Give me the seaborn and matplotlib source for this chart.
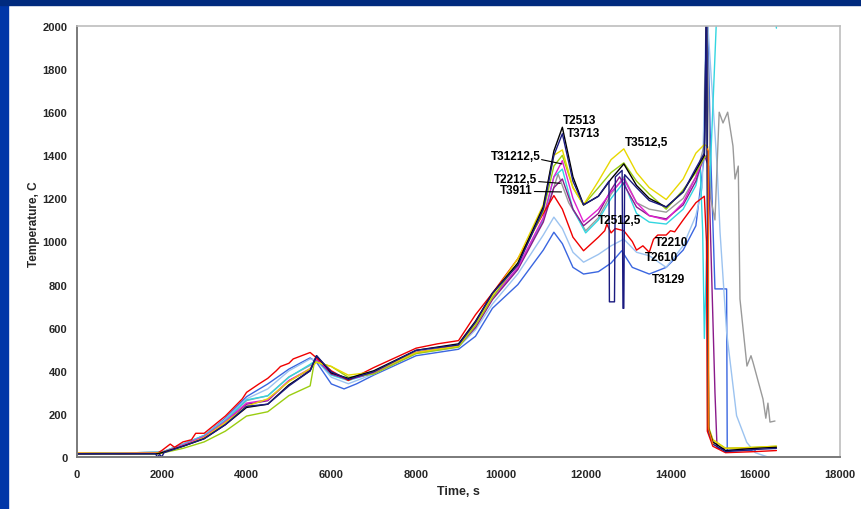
import matplotlib
matplotlib.use('Agg')
import matplotlib.pyplot as plt
import seaborn as sns
import pandas as pd
from matplotlib.patches import Rectangle

sns.set_style('white')
plt.rcParams['font.family'] = ['Liberation Sans', 'DejaVu Sans']

# ---- data (time, s / temperature, C) ----
t_red = [0, 1000, 1900, 2000, 2200, 2300, 2500, 2700, 2800, 3000, 3500, 3800, 3900, 4000, 4300, 4500, 4700, 4800, 5000, 5100,
         5300, 5500, 5650, 6000, 6400, 7000, 8000, 8500, 9000, 9400, 9800, 10400, 11000, 11250, 11450, 11700, 11950, 12300,
         12450, 12500, 12600, 12700, 12900, 13100, 13200, 13350, 13500, 13600, 13700, 13900, 14000, 14100, 14300, 14600,
         14800, 14850, 14870, 15000, 15300, 16000, 16500]
v_red = [18, 15, 18, 30, 60, 45, 70, 80, 110, 110, 190, 250, 270, 300, 340, 365, 400, 420, 435, 455,
         470, 485, 460, 400, 355, 415, 505, 525, 540, 660, 760, 920, 1130, 1213, 1150, 1020, 957, 1020,
         1050, 1080, 1040, 1060, 1050, 1000, 960, 980, 950, 1010, 1030, 1030, 1050, 1045, 1100, 1180,
         1210, 1000, 120, 50, 20, 25, 30]

t_black = [0, 1900, 2000, 2500, 3000, 3500, 4000, 4500, 5000, 5500, 5650, 6000, 6400, 7000, 8000, 9000, 9400, 9800, 10400,
           11000, 11250, 11450, 11700, 11950, 12300, 12600, 12900, 13200, 13500, 13900, 14300, 14600, 14800, 14850,
           14900, 15000, 15300, 16000, 16500]
v_black = [15, 15, 20, 50, 85, 150, 230, 245, 335, 400, 470, 390, 365, 400, 495, 525, 630, 760, 900,
           1160, 1420, 1530, 1300, 1170, 1210, 1290, 1360, 1260, 1200, 1160, 1230, 1330, 1400, 2100,
           130, 70, 30, 40, 45]

t_yellow = [0, 1900, 2000, 2500, 3000, 3500, 4000, 4500, 5000, 5500, 5650, 6000, 6400, 7000, 8000, 9000, 9400, 9800, 10400,
            11000, 11250, 11450, 11700, 11950, 12300, 12600, 12900, 13200, 13500, 13900, 14300, 14600, 14800, 14880,
            14900, 15000, 15300, 16000, 16500]
v_yellow = [18, 18, 20, 50, 90, 160, 235, 270, 350, 410, 440, 420, 380, 395, 485, 515, 620, 750, 920,
            1170, 1400, 1425, 1250, 1170, 1280, 1380, 1430, 1320, 1250, 1195, 1290, 1410, 1450, 1440,
            130, 80, 40, 45, 50]

t_green = [0, 1900, 2000, 2500, 3000, 3500, 4000, 4500, 5000, 5500, 5600, 5650, 6000, 6400, 7000, 8000, 9000, 9400, 9800,
           10400, 11000, 11250, 11450, 11700, 11950, 12300, 12600, 12900, 13200, 13500, 13900, 14300, 14600, 14800,
           14880, 14900, 15000, 15300, 16000, 16500]
v_green = [15, 15, 18, 40, 70, 120, 190, 210, 285, 330, 440, 440, 420, 370, 385, 480, 510, 610, 740,
           900, 1140, 1350, 1400, 1250, 1170, 1250, 1320, 1365, 1280, 1220, 1150, 1240, 1320, 1390,
           1400, 140, 80, 40, 45, 50]

t_navy = [0, 1850, 1900, 1950, 2000, 2050, 2500, 3000, 3500, 4000, 4500, 5000, 5500, 5650, 6000, 6400, 7000, 8000, 9000,
          9400, 9800, 10400, 11000, 11250, 11450, 11700, 11950, 12300, 12550, 12560, 12680, 12700, 12860, 12880,
          12900, 12920, 13200, 13500, 13900, 14300, 14600, 14800, 14850, 14900, 15000, 15300, 16000, 16500]
v_navy = [15, 15, 0, 12, 0, 20, 50, 85, 150, 235, 245, 330, 400, 470, 395, 360, 395, 495, 520,
          625, 760, 890, 1150, 1400, 1500, 1280, 1170, 1210, 1280, 720, 720, 1300, 1330, 690,
          690, 1310, 1250, 1190, 1160, 1230, 1340, 1410, 2100, 120, 60, 25, 35, 40]

t_magenta = [0, 2000, 2500, 3000, 3500, 4000, 4500, 5000, 5500, 5650, 6000, 6400, 7000, 8000, 9000, 9400, 9800, 10400,
             11000, 11250, 11450, 11700, 11950, 12300, 12600, 12900, 13200, 13500, 13900, 14300, 14600, 14800, 14900]
v_magenta = [15, 20, 55, 95, 165, 250, 265, 355, 410, 455, 390, 360, 390, 485, 515, 610, 740, 880,
             1110, 1300, 1375, 1200, 1090, 1150, 1230, 1290, 1180, 1120, 1100, 1180, 1300, 1400, 1380]

t_purple = [0, 2000, 2500, 3000, 3500, 4000, 4500, 5000, 5500, 5650, 6000, 6400, 7000, 8000, 9000, 9400, 9800, 10400,
            11000, 11250, 11450, 11700, 11950, 12300, 12600, 12800, 13200, 13500, 13900, 14300, 14600, 14800, 14900,
            15050, 15100, 16000]
v_purple = [15, 20, 52, 92, 160, 245, 261, 354, 405, 455, 385, 360, 390, 485, 515, 600, 730, 870,
            1090, 1250, 1290, 1150, 1073, 1130, 1240, 1300, 1160, 1120, 1105, 1170, 1280, 1400, 1350,
            300, 40, 40]

t_cyan = [0, 2000, 2500, 3000, 3500, 4000, 4500, 5000, 5500, 5650, 6000, 6400, 7000, 8000, 9000, 9400, 9800, 10400,
          11000, 11250, 11450, 11700, 12000, 12300, 12600, 12900, 13200, 13500, 13900, 14300, 14600, 14700, 14760,
          14800, 14850, 15100, 16450, 16500]
v_cyan = [15, 22, 58, 100, 170, 265, 284, 370, 430, 450, 380, 355, 390, 485, 515, 605, 735, 875,
          1100, 1300, 1336, 1150, 1040, 1100, 1200, 1275, 1130, 1090, 1081, 1150, 1260, 1350, 1050,
          550, 900, 2100, 2100, 1990]

t_gray = [0, 2000, 2500, 3000, 3500, 4000, 4500, 5000, 5500, 5650, 6000, 6400, 7000, 8000, 9000, 9400, 9800, 10400,
          11000, 11350, 11600, 12000, 12300, 12600, 12900, 13200, 13500, 13900, 14300, 14600, 14800, 14850, 14950,
          15050, 15150, 15240, 15350, 15475, 15523, 15600, 15640, 15805, 15900, 15947, 16183, 16250, 16300, 16348, 16466]
v_gray = [15, 22, 56, 98, 168, 262, 284, 372, 425, 450, 385, 360, 390, 485, 515, 605, 735, 875,
          1100, 1313, 1180, 1050, 1110, 1220, 1300, 1180, 1150, 1136, 1200, 1300, 1450, 2100, 1200,
          1100, 1600, 1550, 1600, 1443, 1290, 1350, 733, 422, 470, 440, 269, 180, 250, 162, 167]

t_lightblue = [0, 2000, 2500, 3000, 3500, 4000, 4500, 5000, 5500, 5650, 6000, 6400, 7000, 8000, 9000, 9400, 9800, 10400,
               11000, 11250, 11450, 11700, 11950, 12300, 12600, 12900, 13200, 13500, 13900, 14300, 14600, 14750, 14850,
               14950, 15100, 15170, 15325, 15560, 15800, 16000, 16300]
v_lightblue = [15, 22, 60, 100, 175, 270, 316, 400, 455, 450, 370, 340, 385, 480, 510, 590, 710, 850,
               1030, 1113, 1060, 950, 904, 940, 980, 1011, 950, 934, 880, 980, 1120, 1250, 2100,
               1800, 1352, 1044, 580, 192, 68, 20, 0]

t_blue = [0, 2000, 2500, 3000, 3500, 4000, 4500, 5000, 5500, 5650, 6000, 6300, 6600, 7000, 8000, 9000, 9400, 9800, 10400,
          11000, 11250, 11450, 11700, 11950, 12300, 12600, 12850, 13100, 13500, 13900, 14300, 14600, 14800, 14870,
          14950, 15050, 15325, 15340, 16000]
v_blue = [15, 22, 60, 100, 180, 280, 339, 408, 460, 440, 339, 316, 340, 380, 470, 500, 560, 690, 800,
          960, 1043, 990, 880, 849, 860, 900, 957, 880, 849, 880, 960, 1073, 1400, 2100,
          1400, 780, 780, 30, 30]

t_orange = [14870, 14893, 14900, 15000]
v_orange = [1430, 1420, 130, 60]

series_names = ['blue', 'lightblue', 'gray', 'cyan', 'purple', 'magenta', 'red', 'green', 'yellow', 'black', 'navy', 'orange']
series_times = [t_blue, t_lightblue, t_gray, t_cyan, t_purple, t_magenta, t_red, t_green, t_yellow, t_black, t_navy, t_orange]
series_vals = [v_blue, v_lightblue, v_gray, v_cyan, v_purple, v_magenta, v_red, v_green, v_yellow, v_black, v_navy, v_orange]
series_colors = ['#3A66E0', '#9CC3F0', '#9A9A9A', '#33D6E0', '#8A1A8A', '#E020D0', '#F00000', '#9ACD10', '#E8D800',
                 '#000000', '#1A1A80', '#FF6A00']

labels = ['T2513', 'T3713', 'T31212,5', 'T2212,5', 'T3911', 'T3512,5', 'T2512,5', 'T2210', 'T2610', 'T3129']
label_x = [11460, 11560, 10930, 10860, 10760, 12920, 12290, 13630, 13400, 13560]
label_y = [1565, 1505, 1395, 1290, 1240, 1460, 1100, 1000, 930, 825]
label_ha = ['left', 'left', 'right', 'right', 'right', 'left', 'left', 'left', 'left', 'left']

# leader lines: (text end) -> (curve)
leader_x0 = [10960, 10890, 10790]
leader_y0 = [1380, 1278, 1232]
leader_x1 = [11440, 11400, 11430]
leader_y1 = [1360, 1270, 1230]

fig = plt.figure(figsize=(8.61, 5.1), dpi=100)
fig.patch.set_facecolor('white')
fig.patches.append(Rectangle((0, 0), 8 / 861, 1, transform=fig.transFigure, color='#0036A8', zorder=0))
fig.patches.append(Rectangle((0, 1 - 6 / 510), 1, 6 / 510, transform=fig.transFigure, color='#002A7E', zorder=0))

ax = fig.add_axes([77 / 861, 52 / 510, 763 / 861, 431 / 510])

for name, tt, vv, col in zip(series_names, series_times, series_vals, series_colors):
    df = pd.DataFrame({'time': tt, 'temp': vv})
    sns.lineplot(data=df, x='time', y='temp', color=col, linewidth=1.0, ax=ax, sort=False, estimator=None)

for x0, y0, x1, y1 in zip(leader_x0, leader_y0, leader_x1, leader_y1):
    ax.plot([x0, x1], [y0, y1], color='black', linewidth=0.8)

for lab, lx, ly, ha in zip(labels, label_x, label_y, label_ha):
    ax.text(lx, ly, lab, ha=ha, va='center', fontsize=8.5, fontweight='bold', color='black')

ax.set_xlim(0, 18000)
ax.set_ylim(0, 2000)
ax.set_xticks(range(0, 18001, 2000))
ax.set_yticks(range(0, 2001, 200))
ax.set_xlabel('Time, s', fontsize=9, fontweight='bold', labelpad=4)
ax.set_ylabel('Temperature, C', fontsize=8.5, fontweight='bold')
ax.yaxis.set_label_coords(-0.049, 0.543)
for lab in ax.get_xticklabels() + ax.get_yticklabels():
    lab.set_fontweight('bold')
    lab.set_fontsize(8)
ax.tick_params(axis='both', direction='out', length=3, width=1, color='#808080')
ax.tick_params(axis='y', pad=4)
ax.tick_params(axis='x', pad=6)

for side in ['left', 'bottom']:
    ax.spines[side].set_color('#7A7A7A')
    ax.spines[side].set_linewidth(1.4)
for side in ['top', 'right']:
    ax.spines[side].set_color('#BDBDBD')
    ax.spines[side].set_linewidth(1.2)

plt.savefig('out.png', dpi=100)
